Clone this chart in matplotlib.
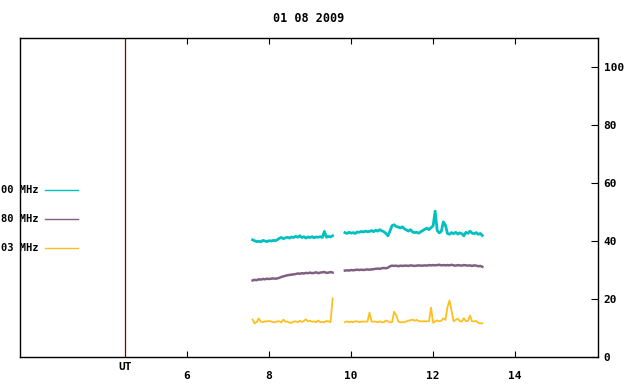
import numpy as np
import matplotlib.pyplot as plt
from matplotlib.lines import Line2D

plt.rcParams['font.family'] = ['DejaVu Sans Mono']
plt.rcParams['font.weight'] = 'bold'

# время (UT, часы) для двух участков записи
t1 = np.round(np.arange(7.60, 9.551, 0.05), 2)
t2 = np.round(np.arange(9.85, 13.201, 0.05), 2)

title = '01 08 2009'
labels = ['00 MHz', '80 MHz', '03 MHz']
colors = ['#00c0c0', '#806080', '#ffbf20']

# верхняя кривая (бирюзовая)
cyan1 = [40.4, 40.1, 39.8, 39.9, 39.7, 40.2, 40.0, 39.8, 40.1, 40.0,
         40.2, 40.1, 40.4, 40.9, 41.2, 40.8, 41.1, 41.3, 41.0, 41.4,
         41.2, 41.6, 41.3, 41.8, 41.2, 41.5, 41.0, 41.4, 41.2, 41.5,
         41.1, 41.4, 41.3, 41.5, 41.2, 43.3, 41.3, 41.6, 41.4, 41.8]
cyan2 = [42.9, 42.6, 43.0, 42.7, 42.9, 42.6, 43.1, 43.0, 43.3, 43.1,
         43.4, 43.2, 43.3, 43.6, 43.2, 43.7, 43.4, 43.9, 43.5, 43.2,
         42.6, 41.8, 43.5, 45.3, 45.6, 45.0, 44.8, 44.5, 44.9, 44.2,
         43.8, 43.4, 43.9, 43.1, 42.9, 43.0, 42.7, 43.2, 43.6, 44.1,
         44.4, 43.9, 44.6, 45.2, 50.3, 43.6, 42.8, 43.3, 46.6, 45.5,
         42.6, 42.3, 42.9, 42.5, 43.0, 42.4, 42.8, 42.5, 41.8, 43.0,
         42.6, 43.4, 42.7, 42.5, 42.9, 42.3, 42.6, 41.9]

# средняя кривая (фиолетовая)
purple1 = [26.4, 26.6, 26.5, 26.8, 26.7, 26.9, 26.8, 27.0, 26.9, 27.0,
           27.1, 27.0, 27.1, 27.3, 27.6, 27.8, 28.0, 28.2, 28.3, 28.4,
           28.5, 28.6, 28.8, 28.7, 28.9, 28.8, 29.0, 28.9, 29.1, 28.9,
           29.0, 29.2, 28.9, 29.1, 29.2, 29.3, 29.0, 29.1, 29.3, 29.1]
purple2 = [29.8, 29.9, 29.8, 30.0, 29.9, 30.0, 30.1, 30.0, 30.1, 30.0,
           30.1, 30.2, 30.1, 30.2, 30.3, 30.4, 30.5, 30.4, 30.6, 30.7,
           30.6, 30.8, 31.3, 31.5, 31.4, 31.5, 31.3, 31.5, 31.4, 31.5,
           31.5, 31.4, 31.6, 31.5, 31.4, 31.5, 31.6, 31.5, 31.5, 31.6,
           31.5, 31.7, 31.6, 31.7, 31.6, 31.7, 31.8, 31.6, 31.7, 31.6,
           31.7, 31.6, 31.8, 31.6, 31.5, 31.7, 31.6, 31.5, 31.7, 31.6,
           31.5, 31.6, 31.4, 31.6, 31.5, 31.3, 31.4, 31.1]

# нижняя кривая (оранжевая)
orange1 = [12.9, 11.6, 12.0, 13.3, 12.2, 12.0, 12.3, 12.3, 12.4, 12.3,
           12.0, 12.0, 12.3, 12.3, 11.9, 12.9, 12.2, 12.2, 11.8, 11.8,
           12.2, 12.3, 12.0, 12.5, 12.1, 12.4, 13.0, 12.3, 12.5, 12.1,
           12.3, 12.0, 12.6, 12.0, 12.1, 12.0, 12.4, 12.3, 12.0, 20.2]
orange2 = [12.0, 12.3, 12.0, 12.2, 12.0, 12.3, 12.3, 12.0, 12.2, 12.2,
           12.2, 12.2, 15.3, 12.2, 12.2, 12.2, 12.0, 12.3, 12.0, 12.0,
           12.6, 12.3, 12.0, 12.0, 15.6, 14.4, 12.3, 12.0, 12.0, 12.0,
           12.3, 12.5, 12.7, 12.9, 12.5, 12.8, 12.4, 12.3, 12.3, 12.3,
           12.3, 12.3, 17.0, 11.8, 12.3, 12.6, 12.3, 12.5, 13.3, 12.8,
           17.2, 19.5, 16.0, 12.3, 12.8, 13.2, 12.4, 12.2, 13.4, 12.3,
           12.5, 14.3, 12.3, 12.3, 12.4, 11.8, 11.6, 11.6]

series = [(cyan1, cyan2), (purple1, purple2), (orange1, orange2)]
widths = [2.0, 1.8, 1.3]

xticks = [6, 8, 10, 12, 14]
yticks = [0, 20, 40, 60, 80, 100]
ut_pos = 4.5

fig = plt.figure(figsize=(6.4, 3.84), dpi=100)
ax = fig.add_axes([20/640, 27/384, 578/640, 319/384])

for (a, b), c, w in zip(series, colors, widths):
    ax.plot(t1, a, color=c, lw=w)
    ax.plot(t2, b, color=c, lw=w)

ax.axvline(ut_pos, color='#800000', lw=0.9)

ax.set_xlim(1.93, 16.02)
ax.set_ylim(0, 110)
ax.set_xticks(xticks)
ax.set_yticks(yticks)
ax.yaxis.tick_right()
ax.tick_params(axis='x', direction='in', top=True, bottom=True, length=4,
               width=0.8, pad=10, labelsize=8)
ax.tick_params(axis='y', direction='in', right=True, left=False, length=5,
               width=0.8, pad=4, labelsize=8)
for s in ax.spines.values():
    s.set_linewidth(1.0)

ax.annotate('UT', xy=(ut_pos, 0), xycoords=('data', 'axes fraction'),
            xytext=(0, -7.5), textcoords='offset points', ha='center', va='center',
            fontsize=8, fontweight='bold')

fig.text(309/640, 1 - 19/384, title, ha='center', va='center', fontsize=8.5,
         fontweight='bold')

# легенда слева, как в gnuplot
for i, (lab, c) in enumerate(zip(labels, colors)):
    y = 1 - (190 + 29 * i) / 384
    fig.text(1/640, y, lab, ha='left', va='center', fontsize=7.5, fontweight='bold')
    fig.add_artist(Line2D([45/640, 78/640], [y, y], color=c, lw=1.0,
                          transform=fig.transFigure))

fig.savefig('out.png', dpi=100)
